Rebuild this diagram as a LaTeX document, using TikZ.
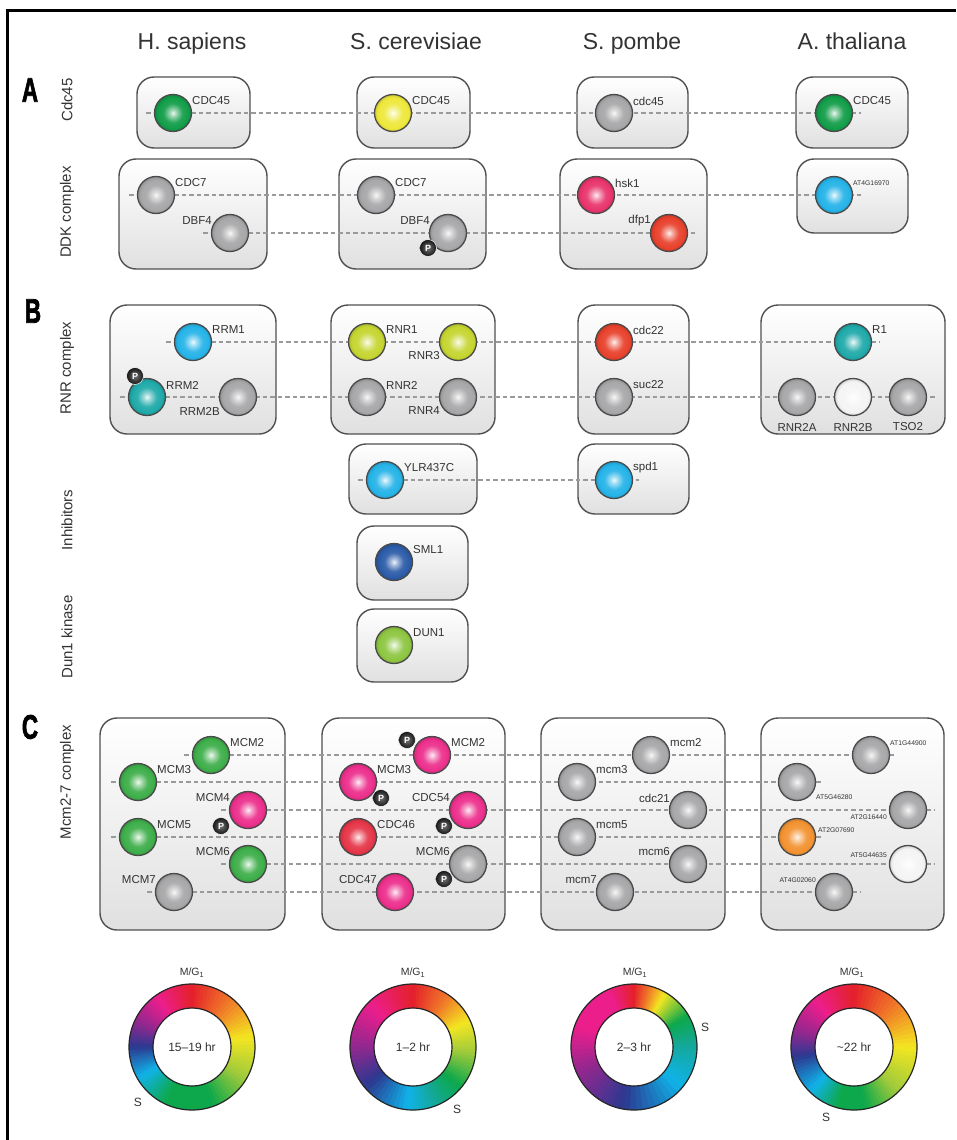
\documentclass[tikz,border=0pt]{standalone}
\usepackage{fontspec}
\setmainfont{Liberation Sans}
\setsansfont{Liberation Sans}
\newfontfamily\secfont[FakeBold=2.5]{Liberation Sans}
\usetikzlibrary{calc}
\definecolor{tcol}{HTML}{333333}
\definecolor{pdraw}{HTML}{4A4A4A}
\definecolor{bdraw}{HTML}{505050}
\definecolor{bbot}{HTML}{E0E0E0}
\definecolor{dcol}{HTML}{9A9A9A}
\definecolor{cGreen}{HTML}{119D48}
\definecolor{cGreenM}{HTML}{3DAE49}
\definecolor{cYellow}{HTML}{EEE83A}
\definecolor{cGray}{HTML}{A7A7A9}
\definecolor{cSky}{HTML}{25B3E8}
\definecolor{cPinkRed}{HTML}{E8346C}
\definecolor{cRed}{HTML}{E8412C}
\definecolor{cTeal}{HTML}{1FA9A9}
\definecolor{cYG}{HTML}{C5D52F}
\definecolor{cWhite}{HTML}{F4F4F4}
\definecolor{cDBlue}{HTML}{2B5BA8}
\definecolor{cLime}{HTML}{8DC641}
\definecolor{cMag}{HTML}{EC2F8C}
\definecolor{cCrimson}{HTML}{E53548}
\definecolor{cOrange}{HTML}{F39230}
\definecolor{wred}{HTML}{E4202A}
\definecolor{worange}{HTML}{F07A28}
\definecolor{wyellow}{HTML}{F3E621}
\definecolor{wygreen}{HTML}{A2CB3A}
\definecolor{wgreen}{HTML}{0DA84C}
\definecolor{wteal}{HTML}{13A89E}
\definecolor{wcyan}{HTML}{10B3E8}
\definecolor{wblue}{HTML}{2B3990}
\definecolor{wpurple}{HTML}{92278F}
\definecolor{wmagenta}{HTML}{EC1E8C}
\colorlet{protc}{gray}
\pgfdeclareradialshading[protc]{protball}{\pgfpoint{0bp}{0bp}}{color(0bp)=(protc!8!white); color(5bp)=(protc!45!white); color(13bp)=(protc!92!white); color(21bp)=(protc); color(25bp)=(protc!86!black); color(50bp)=(protc!86!black)}
\pgfdeclarelayer{bg}
\pgfdeclarelayer{mid}
\pgfsetlayers{bg,mid,main}
\newcommand\labUR[2]{\node[lab,anchor=west] (#1-l) at ([shift={(19,12)}]#1.center) {#2};}
\newcommand\labUL[2]{\node[lab,anchor=east] (#1-l) at ([shift={(-18,12)}]#1.center) {#2};}
\newcommand\labLL[2]{\node[lab,anchor=east] (#1-l) at ([shift={(-18,-14)}]#1.center) {#2};}
\newcommand\labB[2]{\node[lab,anchor=center] (#1-l) at ([shift={(0,-30)}]#1.center) {#2};}
\newcommand\Pmark[3]{\node[pmark] (#1-p) at ([shift={(#2,#3)}]#1.center) {P};}
\newcommand\ringseg[6]{%
  \foreach \i in {0,...,9}{%
    \pgfmathsetmacro\aa{#3+(#4-#3)*\i/10}%
    \pgfmathsetmacro\ab{#3+(#4-#3)*(\i+1)/10+(#4-#3)*0.04}%
    \pgfmathtruncatemacro\pp{100-(\i*10+5)}%
    \fill[#5!\pp!#6] ($(#1,#2)+(\aa:63)$) arc[start angle=\aa, end angle=\ab, radius=63] -- ($(#1,#2)+(\ab:39)$) arc[start angle=\ab, end angle=\aa, radius=39] -- cycle;
  }%
}
\tikzset{
  prot/.style={circle, draw=pdraw, line width=1.3pt, minimum size=37pt, inner sep=0pt, /utils/exec={\colorlet{protc}{#1}}, shade, shading=protball},
  pmark/.style={circle, draw=white, line width=0.5pt, minimum size=17pt, inner sep=0pt, inner color=black!55, outer color=black!92, text=white, font=\fontsize{9}{9}\selectfont\bfseries},
  cbox/.style={draw=bdraw, line width=1.4pt, rounded corners=17pt, top color=white, bottom color=bbot, inner sep=0pt},
  lab/.style={font=\fontsize{11.5}{13}\selectfont, text=tcol, inner sep=0pt},
  slab/.style={font=\fontsize{6.8}{8}\selectfont, text=tcol, inner sep=0pt},
  dline/.style={draw=dcol, line width=1.3pt, dash pattern=on 4.5pt off 3pt},
  rowlab/.style={rotate=90, font=\fontsize{15}{17}\selectfont, text=tcol, inner sep=0pt},
  header/.style={font=\fontsize{23}{26}\selectfont, text=tcol, inner sep=0pt, anchor=base},
  seclab/.style={font=\fontsize{34}{36}\secfont\bfseries, text=black, inner sep=0pt, xscale=0.66},
  ring/.style={draw=black!85, line width=1.2pt},
  wtext/.style={font=\fontsize{12}{14}\selectfont, text=tcol, inner sep=0pt},
  wlab/.style={font=\fontsize{10.5}{12}\selectfont, text=tcol, inner sep=0pt}
}
\begin{document}
\begin{tikzpicture}[x=1pt,y=1pt]
\useasboundingbox (0,0) rectangle (956,-1140);

% boxes
\begin{pgfonlayer}{bg}
\fill[white] (0,0) rectangle (956,-1140);
\node[cbox, minimum width=113, minimum height=71] (bA1) at (193.5,-112.5) {};
\node[cbox, minimum width=113, minimum height=71] (bA2) at (413.5,-112.5) {};
\node[cbox, minimum width=111, minimum height=71] (bA3) at (632.5,-112.5) {};
\node[cbox, minimum width=112, minimum height=71] (bA4) at (852,-112.5) {};
\node[cbox, minimum width=148, minimum height=110] (bD1) at (193,-214) {};
\node[cbox, minimum width=147, minimum height=110] (bD2) at (412.5,-214) {};
\node[cbox, minimum width=147, minimum height=110] (bD3) at (633.5,-214) {};
\node[cbox, minimum width=111, minimum height=74] (bD4) at (852.5,-196) {};
\node[cbox, minimum width=166, minimum height=129] (bR1) at (193,-369.5) {};
\node[cbox, minimum width=164, minimum height=129] (bR2) at (413,-369.5) {};
\node[cbox, minimum width=111, minimum height=129] (bR3) at (633.5,-369.5) {};
\node[cbox, minimum width=184, minimum height=129] (bR4) at (853,-369.5) {};
\node[cbox, minimum width=128, minimum height=70] (bI2) at (413,-479) {};
\node[cbox, minimum width=111, minimum height=70] (bI3) at (633.5,-479) {};
\node[cbox, minimum width=111, minimum height=74] (bS2) at (412.5,-563) {};
\node[cbox, minimum width=111, minimum height=73] (bK2) at (412.5,-645.5) {};
\node[cbox, minimum width=185, minimum height=212] (bC1) at (192.5,-824) {};
\node[cbox, minimum width=183, minimum height=212] (bC2) at (413.5,-824) {};
\node[cbox, minimum width=184, minimum height=212] (bC3) at (633,-824) {};
\node[cbox, minimum width=183, minimum height=212] (bC4) at (852.5,-824) {};
\end{pgfonlayer}

\draw[line width=3pt] (956,-11) -- (7,-11) -- (7,-1140);

% headers
\node[header] (hHs) at (192,-50) {H. sapiens};
\node[header] (hSc) at (416,-50) {S. cerevisiae};
\node[header] (hSp) at (632,-50) {S. pombe};
\node[header] (hAt) at (852,-50) {A. thaliana};

% section letters
\node[seclab] (secA) at (30,-90) {A};
\node[seclab] (secB) at (33,-311) {B};
\node[seclab] (secC) at (30,-727) {C};

% row labels
\node[rowlab] (rCdc) at (67,-100) {Cdc45};
\node[rowlab] (rDDK) at (67,-212) {DDK complex};
\node[rowlab] (rRNR) at (67,-368) {RNR complex};
\node[rowlab] (rInh) at (67,-520) {Inhibitors};
\node[rowlab] (rDun) at (67,-637) {Dun1 kinase};
\node[rowlab] (rMcm) at (67,-782) {Mcm2-7 complex};

% ---- Section A
\node[prot=cGreen] (hsCDC45) at (173,-113) {};
\node[prot=cYellow] (scCDC45) at (393,-113) {};
\node[prot=cGray] (spcdc45) at (614,-113) {};
\node[prot=cGreen] (atCDC45) at (834,-113) {};
\labUR{hsCDC45}{CDC45}
\labUR{scCDC45}{CDC45}
\labUR{spcdc45}{cdc45}
\labUR{atCDC45}{CDC45}

\node[prot=cGray] (hsCDC7) at (156,-195) {};
\node[prot=cGray] (hsDBF4) at (230,-233) {};
\node[prot=cGray] (scCDC7) at (376,-195) {};
\node[prot=cGray] (scDBF4) at (448,-233) {};
\node[prot=cPinkRed] (sphsk1) at (596,-195) {};
\node[prot=cRed] (spdfp1) at (669,-233) {};
\node[prot=cSky] (atDDK) at (834,-195) {};
\labUR{hsCDC7}{CDC7}
\labUL{hsDBF4}{DBF4}
\labUR{scCDC7}{CDC7}
\labUL{scDBF4}{DBF4}
\labUR{sphsk1}{hsk1}
\labUL{spdfp1}{dfp1}
\node[slab,anchor=west] (atDDK-l) at ([shift={(19,12)}]atDDK.center) {AT4G16970};
\Pmark{scDBF4}{-20}{-15}

% ---- Section B
\node[prot=cSky] (hsRRM1) at (193,-342) {};
\node[prot=cTeal] (hsRRM2) at (147,-397) {};
\node[prot=cGray] (hsRRM2B) at (238,-397) {};
\node[prot=cYG] (scRNR1) at (367,-342) {};
\node[prot=cYG] (scRNR3) at (458,-342) {};
\node[prot=cGray] (scRNR2) at (367,-397) {};
\node[prot=cGray] (scRNR4) at (458,-397) {};
\node[prot=cRed] (spcdc22) at (614,-342) {};
\node[prot=cGray] (spsuc22) at (614,-397) {};
\node[prot=cTeal] (atR1) at (853,-342) {};
\node[prot=cGray] (atRNR2A) at (797,-397) {};
\node[prot=cWhite] (atRNR2B) at (853,-397) {};
\node[prot=cGray] (atTSO2) at (908,-397) {};
\labUR{hsRRM1}{RRM1}
\labUR{hsRRM2}{RRM2}
\labLL{hsRRM2B}{RRM2B}
\labUR{scRNR1}{RNR1}
\labLL{scRNR3}{RNR3}
\labUR{scRNR2}{RNR2}
\labLL{scRNR4}{RNR4}
\labUR{spcdc22}{cdc22}
\labUR{spsuc22}{suc22}
\labUR{atR1}{R1}
\labB{atRNR2A}{RNR2A}
\labB{atRNR2B}{RNR2B}
\labB{atTSO2}{TSO2}
\Pmark{hsRRM2}{-12}{21}

\node[prot=cSky] (scYLR) at (385,-480) {};
\node[prot=cSky] (spspd1) at (614,-480) {};
\node[prot=cDBlue] (scSML1) at (394,-562) {};
\node[prot=cLime] (scDUN1) at (394,-645) {};
\labUR{scYLR}{YLR437C}
\labUR{spspd1}{spd1}
\labUR{scSML1}{SML1}
\labUR{scDUN1}{DUN1}

% ---- Section C
\node[prot=cGreenM] (hsMCM2) at (211,-755) {};
\node[prot=cGreenM] (hsMCM3) at (138,-782) {};
\node[prot=cMag] (hsMCM4) at (248,-810) {};
\node[prot=cGreenM] (hsMCM5) at (138,-837) {};
\node[prot=cGreenM] (hsMCM6) at (248,-864) {};
\node[prot=cGray] (hsMCM7) at (174,-892) {};
\labUR{hsMCM2}{MCM2}
\labUR{hsMCM3}{MCM3}
\labUL{hsMCM4}{MCM4}
\labUR{hsMCM5}{MCM5}
\labUL{hsMCM6}{MCM6}
\labUL{hsMCM7}{MCM7}
\Pmark{hsMCM4}{-27}{-16}

\node[prot=cMag] (scMCM2) at (432,-755) {};
\node[prot=cMag] (scMCM3) at (358,-782) {};
\node[prot=cMag] (scCDC54) at (468,-810) {};
\node[prot=cCrimson] (scCDC46) at (358,-837) {};
\node[prot=cGray] (scMCM6) at (468,-864) {};
\node[prot=cMag] (scCDC47) at (395,-892) {};
\labUR{scMCM2}{MCM2}
\labUR{scMCM3}{MCM3}
\labUL{scCDC54}{CDC54}
\labUR{scCDC46}{CDC46}
\labUL{scMCM6}{MCM6}
\labUL{scCDC47}{CDC47}
\Pmark{scMCM2}{-25}{15}
\Pmark{scMCM3}{23}{-16}
\Pmark{scCDC54}{-24}{-16}
\Pmark{scMCM6}{-24}{-15}

\node[prot=cGray] (spmcm2) at (651,-755) {};
\node[prot=cGray] (spmcm3) at (577,-782) {};
\node[prot=cGray] (spcdc21) at (688,-810) {};
\node[prot=cGray] (spmcm5) at (577,-837) {};
\node[prot=cGray] (spmcm6) at (688,-864) {};
\node[prot=cGray] (spmcm7) at (615,-892) {};
\labUR{spmcm2}{mcm2}
\labUR{spmcm3}{mcm3}
\labUL{spcdc21}{cdc21}
\labUR{spmcm5}{mcm5}
\labUL{spmcm6}{mcm6}
\labUL{spmcm7}{mcm7}

\node[prot=cGray] (atA) at (871,-755) {};
\node[prot=cGray] (atB) at (797,-782) {};
\node[prot=cGray] (atC) at (908,-810) {};
\node[prot=cOrange] (atD) at (797,-837) {};
\node[prot=cWhite] (atE) at (908,-864) {};
\node[prot=cGray] (atF) at (834,-892) {};
\node[slab,anchor=west] (atA-l) at ([shift={(19,12)}]atA.center) {AT1G44900};
\node[slab,anchor=west] (atB-l) at ([shift={(19,-15)}]atB.center) {AT5G46280};
\node[slab,anchor=east] (atC-l) at ([shift={(-21,-7)}]atC.center) {AT2G16440};
\node[slab,anchor=west] (atD-l) at ([shift={(21,7)}]atD.center) {AT2G07690};
\node[slab,anchor=east] (atE-l) at ([shift={(-21,9)}]atE.center) {AT5G44635};
\node[slab,anchor=east] (atF-l) at ([shift={(-18,12)}]atF.center) {AT4G02060};

% dashed connectors
\begin{pgfonlayer}{mid}
\draw[dline] ([xshift=-27]hsCDC45.center) -- ([xshift=27]atCDC45.center);
\draw[dline] ([xshift=-27]hsCDC7.center) -- ([xshift=27]atDDK.center);
\draw[dline] ([xshift=-27]hsDBF4.center) -- ([xshift=27]spdfp1.center);
\draw[dline] ([xshift=-27]hsRRM1.center) -- ([xshift=27]atR1.center);
\draw[dline] ([xshift=-27]hsRRM2.center) -- ([xshift=28]atTSO2.center);
\draw[dline] ([xshift=-27]scYLR.center) -- ([xshift=25]spspd1.center);
\draw[dline] ([xshift=-27]hsMCM2.center) -- ([xshift=25]atA.center);
\draw[dline] ([xshift=-27]hsMCM3.center) -- ([xshift=26]atB.center);
\draw[dline] ([xshift=-27]hsMCM4.center) -- ([xshift=26]atC.center);
\draw[dline] ([xshift=-27]hsMCM5.center) -- ([xshift=26]atD.center);
\draw[dline] ([xshift=-27]hsMCM6.center) -- ([xshift=26]atE.center);
\draw[dline] ([xshift=-27]hsMCM7.center) -- ([xshift=26]atF.center);
\end{pgfonlayer}

% ---- color wheels
\coordinate (w1) at (192,-1047);
\coordinate (w2) at (413,-1047);
\coordinate (w3) at (634,-1047);
\coordinate (w4) at (854,-1047);

\ringseg{192}{-1047}{90}{50}{wred}{worange}
\ringseg{192}{-1047}{50}{10}{worange}{wyellow}
\ringseg{192}{-1047}{10}{-30}{wyellow}{wygreen}
\ringseg{192}{-1047}{-30}{-70}{wygreen}{wgreen}
\ringseg{192}{-1047}{-70}{-115}{wgreen}{wgreen}
\ringseg{192}{-1047}{-115}{-150}{wgreen}{wcyan}
\ringseg{192}{-1047}{-150}{-180}{wcyan}{wblue}
\ringseg{192}{-1047}{-180}{-205}{wblue}{wpurple}
\ringseg{192}{-1047}{-205}{-235}{wpurple}{wmagenta}
\ringseg{192}{-1047}{-235}{-270}{wmagenta}{wred}

\ringseg{413}{-1047}{90}{55}{wred}{worange}
\ringseg{413}{-1047}{55}{25}{worange}{wyellow}
\ringseg{413}{-1047}{25}{-5}{wyellow}{wygreen}
\ringseg{413}{-1047}{-5}{-40}{wygreen}{wgreen}
\ringseg{413}{-1047}{-40}{-70}{wgreen}{wteal}
\ringseg{413}{-1047}{-70}{-95}{wteal}{wcyan}
\ringseg{413}{-1047}{-95}{-140}{wcyan}{wblue}
\ringseg{413}{-1047}{-140}{-180}{wblue}{wpurple}
\ringseg{413}{-1047}{-180}{-225}{wpurple}{wmagenta}
\ringseg{413}{-1047}{-225}{-270}{wmagenta}{wred}

\ringseg{634}{-1047}{90}{75}{wred}{worange}
\ringseg{634}{-1047}{75}{60}{worange}{wyellow}
\ringseg{634}{-1047}{60}{30}{wyellow}{wgreen}
\ringseg{634}{-1047}{30}{0}{wgreen}{wteal}
\ringseg{634}{-1047}{0}{-40}{wteal}{wcyan}
\ringseg{634}{-1047}{-40}{-100}{wcyan}{wblue}
\ringseg{634}{-1047}{-100}{-155}{wblue}{wpurple}
\ringseg{634}{-1047}{-155}{-200}{wpurple}{wmagenta}
\ringseg{634}{-1047}{-200}{-245}{wmagenta}{wmagenta}
\ringseg{634}{-1047}{-245}{-270}{wmagenta}{wred}

\ringseg{854}{-1047}{90}{45}{wred}{worange}
\ringseg{854}{-1047}{45}{0}{worange}{wyellow}
\ringseg{854}{-1047}{0}{-45}{wyellow}{wygreen}
\ringseg{854}{-1047}{-45}{-80}{wygreen}{wgreen}
\ringseg{854}{-1047}{-80}{-105}{wgreen}{wgreen}
\ringseg{854}{-1047}{-105}{-135}{wgreen}{wcyan}
\ringseg{854}{-1047}{-135}{-170}{wcyan}{wblue}
\ringseg{854}{-1047}{-170}{-195}{wblue}{wpurple}
\ringseg{854}{-1047}{-195}{-230}{wpurple}{wmagenta}
\ringseg{854}{-1047}{-230}{-270}{wmagenta}{wred}

\foreach \w in {w1,w2,w3,w4}{
  \draw[ring] (\w) circle[radius=63];
  \draw[ring] (\w) circle[radius=39];
}

\node[wtext] (t1) at (w1) {15--19 hr};
\node[wtext] (t2) at (w2) {1--2 hr};
\node[wtext] (t3) at (w3) {2--3 hr};
\node[wtext] (t4) at (w4) {\textasciitilde22 hr};
\node[wlab] (m1) at (192,-973) {M/G\textsubscript{1}};
\node[wlab] (m2) at (413,-973) {M/G\textsubscript{1}};
\node[wlab] (m3) at (635,-973) {M/G\textsubscript{1}};
\node[wlab] (m4) at (852,-973) {M/G\textsubscript{1}};
\node[wtext] (s1) at (138,-1102) {S};
\node[wtext] (s2) at (457,-1109) {S};
\node[wtext] (s3) at (705,-1027) {S};
\node[wtext] (s4) at (826,-1117) {S};
\end{tikzpicture}
\end{document}
